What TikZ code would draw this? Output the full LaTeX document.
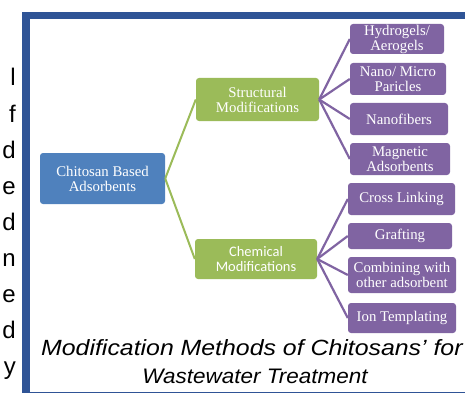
\documentclass[tikz,border=0pt]{standalone}
\usepackage{fontspec}
\setmainfont{Liberation Serif}
\setsansfont{Liberation Sans}
\newfontfamily\calfont{Carlito}
\newfontfamily\capfont[FakeStretch=1.07]{Liberation Sans}
\newfontfamily\capwidefont[FakeStretch=1.13]{Liberation Sans}
\usepackage{tikz}
\usepackage{xcolor}
\definecolor{rootblue}{HTML}{4F81BD}
\definecolor{modgreen}{HTML}{9BBB59}
\definecolor{leafpurple}{HTML}{8064A2}
\definecolor{frameblue}{HTML}{2F5496}
\tikzstyle{box}=[rectangle,rounded corners=3pt,text=white,align=center,inner sep=0pt,font=\rmfamily\fontsize{14.8}{15}\selectfont]
\tikzstyle{root}=[box,fill=rootblue]
\tikzstyle{modif}=[box,fill=modgreen]
\tikzstyle{leaf}=[box,fill=leafpurple]
\tikzstyle{gedge}=[draw,modgreen,line width=2pt]
\tikzstyle{pedge}=[draw,leafpurple,line width=2.2pt]
\tikzstyle{frag}=[anchor=base east,inner sep=0pt,font=\sffamily\fontsize{24}{24}\selectfont]
\tikzstyle{caption}=[anchor=base,inner sep=0pt,font=\capfont\itshape\fontsize{21}{21}\selectfont]

\begin{document}
\begin{tikzpicture}[x=1pt,y=-1pt]
    \useasboundingbox (0,0) rectangle (465,393);
    % frame
    \fill[frameblue] (22,12) rectangle (465,19);
    \fill[frameblue] (22,12) rectangle (30,393);
    \fill[frameblue] (30,391.5) rectangle (465,393);
    % cut text on the left
    \foreach \y/\ch in {86/l,122/f,158/d,194/e,230/d,266/n,302/e,338/d,374/y}
        \node[frag] (frag\y) at (16,\y) {\ch};
    \node[root,minimum width=125pt,minimum height=51pt] (chitosan) at (102.5,178.5) {Chitosan Based\\Adsorbents};
    \node[modif,minimum width=123pt,minimum height=43pt] (struct) at (257.5,99.5) {Structural\\Modifications};
    \node[modif,minimum width=122pt,minimum height=40pt,font=\calfont\fontsize{14.5}{15}\selectfont] (chem) at (256,259) {Chemical\\Modifications};
    \foreach \pos/\name/\w/\h/\txt in {{(397,39)/hydro/94/30/{Hydrogels/\\Aerogels}},{(398,79)/nano/96/32/{Nano/ Micro\\Paricles}},{(399,119)/fibers/98/32/{Nanofibers}},{(400,159)/magnetic/100/32/{Magnetic\\Adsorbents}},{(401.5,199)/cross/107/32/{Cross Linking}},{(400,236)/graft/104/26/{Grafting}},{(402,275)/combine/108/36/{Combining with\\other adsorbent}},{(402,318)/ion/108/30/{Ion Templating}}}
        \node[leaf,minimum width=\w pt,minimum height=\h pt] (\name) at \pos {\txt};
    \foreach \dest in {struct,chem}
        \path[gedge] (chitosan.east) -- (\dest.west);
    \foreach \dest in {hydro,nano,fibers,magnetic}
        \path[pedge] (struct.east) -- (\dest.west);
    \foreach \dest in {cross,graft,combine,ion}
        \path[pedge] (chem.east) -- (\dest.west);
    % caption
    \node[caption,anchor=base west,font=\capwidefont\itshape\fontsize{22}{22}\selectfont] (capA) at (41,355) {Modification Methods of Chitosans’ for};
    \node[caption] (capB) at (255,383) {Wastewater Treatment};
\end{tikzpicture}
\end{document}
